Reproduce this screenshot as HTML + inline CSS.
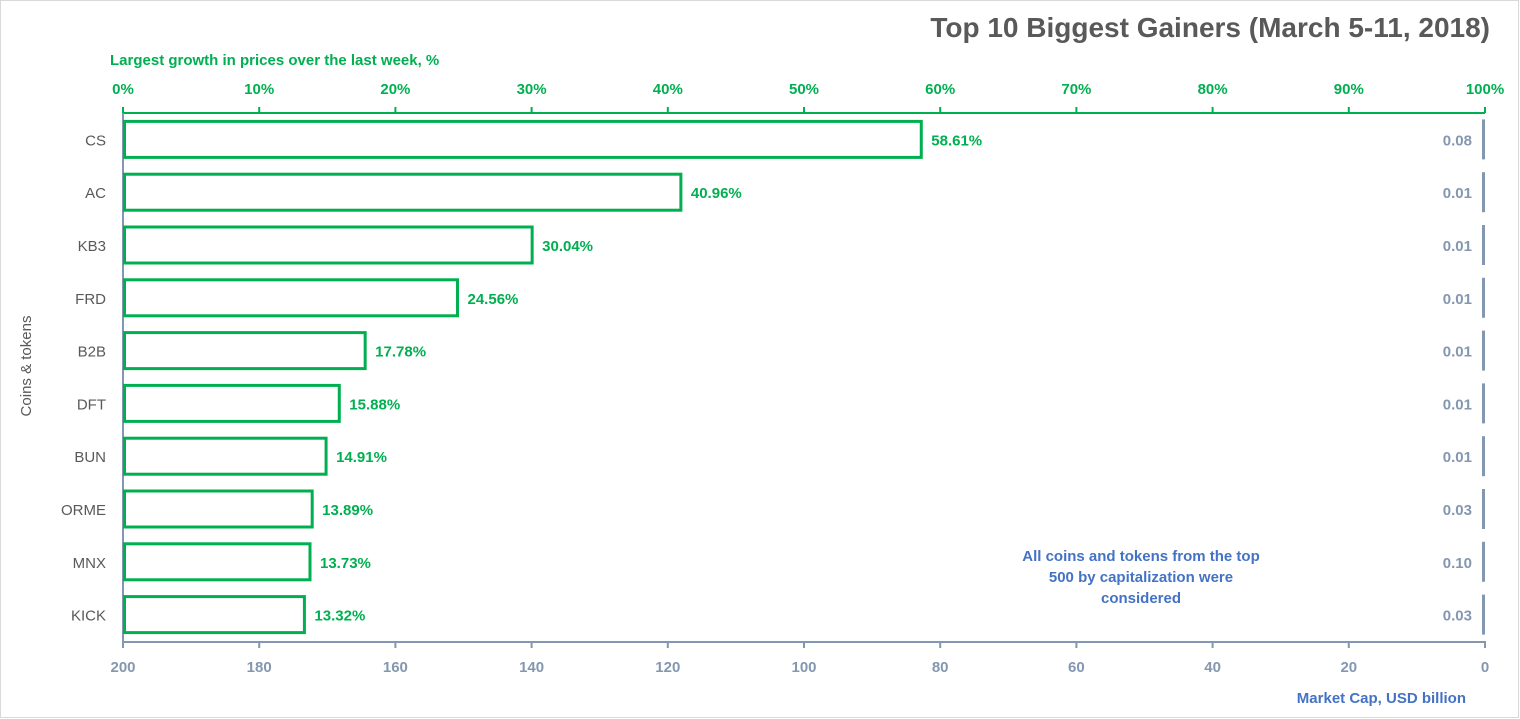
<!DOCTYPE html>
<html><head><meta charset="utf-8"><style>
body{margin:0;background:#fff}
svg{display:block;font-family:"Liberation Sans",sans-serif}
</style></head><body>
<svg id="c" width="1520" height="719">
<rect x="0.5" y="0.5" width="1518" height="717" fill="#fff" stroke="#d9d9d9"/>
<text x="1490" y="37" text-anchor="end" font-size="28" font-weight="bold" fill="#595959">Top 10 Biggest Gainers (March 5-11, 2018)</text>
<text x="110" y="65" font-size="15" font-weight="bold" fill="#00b050">Largest growth in prices over the last week, %</text>
<text x="1466" y="703" text-anchor="end" font-size="15" font-weight="bold" fill="#4472c4">Market Cap,  USD billion</text>
<text transform="translate(31,366) rotate(-90)" text-anchor="middle" font-size="15" fill="#595959">Coins &amp; tokens</text>
<text x="1141" y="561" text-anchor="middle" font-size="15" font-weight="bold" fill="#4472c4"><tspan x="1141">All coins and tokens from the top</tspan><tspan x="1141" dy="21">500 by capitalization were</tspan><tspan x="1141" dy="21">considered</tspan></text>
<g id="g"></g>
</svg>
<script>
const categories=["CS","AC","KB3","FRD","B2B","DFT","BUN","ORME","MNX","KICK"];
const growth=[58.61,40.96,30.04,24.56,17.78,15.88,14.91,13.89,13.73,13.32];
const marketCap=[0.08,0.01,0.01,0.01,0.01,0.01,0.01,0.03,0.10,0.03];
const topTicks=[0,10,20,30,40,50,60,70,80,90,100];
const bottomTicks=[200,180,160,140,120,100,80,60,40,20,0];
const X0=123,X1=1485,Y0=113,Y1=641;
const xTop=v=>X0+(X1-X0)*v/100;
const xBot=v=>X1-(X1-X0)*v/200;
const band=(Y1-Y0)/categories.length;
const yc=i=>Y0+band*(i+0.5);
const g=document.getElementById('g');
const NS='http://www.w3.org/2000/svg';
function mk(t,a){const e=document.createElementNS(NS,t);for(const k in a)e.setAttribute(k,a[k]);g.appendChild(e);return e;}
let e;
e=mk('line',{x1:X0,y1:Y0,x2:X1,y2:Y0,stroke:'#00b050','stroke-width':2});


e=mk('line',{x1:X0,y1:Y0,x2:X0,y2:Y1+4,stroke:'#8497b0','stroke-width':2});


e=mk('line',{x1:X0,y1:Y1+1,x2:X1,y2:Y1+1,stroke:'#8497b0','stroke-width':2});


topTicks.forEach(t=>{
 e=mk('line',{x1:xTop(t),y1:Y0,x2:xTop(t),y2:Y0-6,stroke:'#00b050','stroke-width':2});
 
 
 e=mk('text',{x:xTop(t),y:94,'text-anchor':'middle','font-size':15,'font-weight':'bold',fill:'#00b050'});
 e.textContent=t+'%';
 
 
});
bottomTicks.forEach(t=>{
 e=mk('line',{x1:xBot(t),y1:Y1,x2:xBot(t),y2:Y1+7,stroke:'#8497b0','stroke-width':2});
 
 
 e=mk('text',{x:xBot(t),y:672,'text-anchor':'middle','font-size':15,'font-weight':'bold',fill:'#8497b0'});
 e.textContent=t;
 
 
});
categories.forEach((c,i)=>{
 const y=yc(i),h=36;
 e=mk('text',{x:106,y:y+6,'text-anchor':'end','font-size':15,fill:'#595959'});
 e.textContent=c;
 
 
 e=mk('rect',{x:X0+1.5,y:y-h/2,width:xTop(growth[i])-X0-1.5,height:h,fill:'#fff',stroke:'#00b050','stroke-width':3});
 
 
 e=mk('text',{x:xTop(growth[i])+10,y:y+6,'font-size':15,'font-weight':'bold',fill:'#00b050'});
 e.textContent=growth[i].toFixed(2)+'%';
 
 
 const w=Math.max(3,X1-xBot(marketCap[i]));
 e=mk('rect',{x:X1-w,y:y-20,width:w,height:40,fill:'#8497b0'});
 
 
 e=mk('text',{x:1472,y:y+6,'text-anchor':'end','font-size':15,'font-weight':'bold',fill:'#8497b0'});
 e.textContent=marketCap[i].toFixed(2);
 
 
});
</script>
</body></html>
